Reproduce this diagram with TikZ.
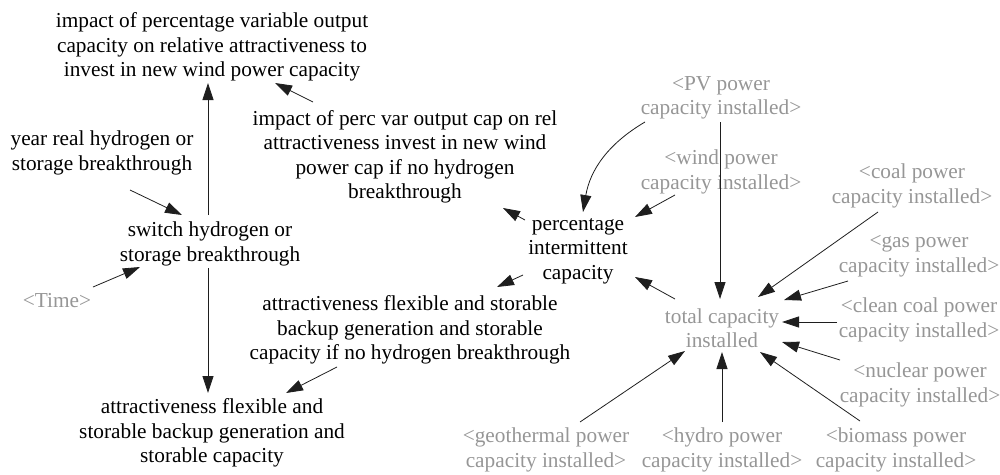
\documentclass[tikz,border=0pt]{standalone}
\usepackage{fontspec}
\setmainfont{Liberation Serif}
\newfontfamily\labelfont{Liberation Serif}
\usetikzlibrary{arrows.meta,calc}
\definecolor{shadowtext}{RGB}{150,150,150}
\definecolor{linkcol}{RGB}{30,30,30}
\begin{document}
\begin{tikzpicture}[x=1pt,y=-1pt,
  var/.style={inner sep=0pt,align=center,text=black,font=\labelfont\fontsize{21.3}{24.5}\selectfont},
  shadow/.style={var,text=shadowtext},
  link/.style={draw=linkcol,line width=0.8pt,-{Triangle[length=17pt,width=11pt]}}]
\useasboundingbox (0,0) rectangle (1000,474);
% model variables
\node[var] (impTop) at (212,47) {impact of percentage variable output\\capacity on relative attractiveness to\\invest in new wind power capacity};
\node[var] (year) at (102,153) {year real hydrogen or\\storage breakthrough};
\node[var] (impNoH) at (405,157) {impact of perc var output cap on rel\\attractiveness invest in new wind\\power cap if no hydrogen\\breakthrough};
\node[var] (switch) at (210,244) {switch hydrogen or\\storage breakthrough};
\node[shadow] (time) at (57,301) {<Time>};
\node[var] (attrNoH) at (410,330) {attractiveness flexible and storable\\backup generation and storable\\capacity if no hydrogen breakthrough};
\node[var] (attr) at (212,433) {attractiveness flexible and\\storable backup generation and\\storable capacity};
\node[var] (perc) at (578,251) {percentage\\intermittent\\capacity};
\node[shadow] (total) at (722,328) {total capacity\\installed};
% shadow inputs
\node[shadow] (pv) at (721,98) {<PV power\\capacity installed>};
\node[shadow] (wind) at (721,172) {<wind power\\capacity installed>};
\node[shadow] (coal) at (912,186) {<coal power\\capacity installed>};
\node[shadow] (gas) at (919,256) {<gas power\\capacity installed>};
\node[shadow] (clean) at (919,320) {<clean coal power\\capacity installed>};
\node[shadow] (nuclear) at (920,385) {<nuclear power\\capacity installed>};
\node[shadow] (geo) at (546,450) {<geothermal power\\capacity installed>};
\node[shadow] (hydro) at (722,450) {<hydro power\\capacity installed>};
\node[shadow] (biomass) at (896,450) {<biomass power\\capacity installed>};
% causal links
\draw[link] ([shift={(-2,-29)}]switch.center) -- ([shift={(-4,36)}]impTop.center);
\draw[link] ([shift={(28,37)}]year.center) -- ([shift={(-28,-29)}]switch.center);
\draw[link] ([shift={(-92,-55)}]impNoH.center) -- ([shift={(63,36)}]impTop.center);
\draw[link] ([shift={(36,-14)}]time.center) -- ([shift={(-70,23)}]switch.center);
\draw[link] ([shift={(-2,24)}]switch.center) -- ([shift={(-4,-40)}]attr.center);
\draw[link] ([shift={(-73,37)}]attrNoH.center) -- ([shift={(74,-40)}]attr.center);
\draw[link] ([shift={(-55,24)}]perc.center) -- ([shift={(87,-43)}]attrNoH.center);
\draw[link] ([shift={(-53,-31)}]perc.center) -- ([shift={(98,51)}]impNoH.center);
\draw[link] ([shift={(-76,24)}]pv.center) to[bend right=25] ([shift={(5,-39)}]perc.center);
\draw[link] ([shift={(-46,23)}]wind.center) -- ([shift={(57,-34)}]perc.center);
\draw[link] ([shift={(-1,24)}]pv.center) -- ([shift={(-2,-29)}]total.center);
\draw[link] ([shift={(-47,-29)}]total.center) -- ([shift={(57,26)}]perc.center);
\draw[link] ([shift={(-34,26)}]coal.center) -- ([shift={(36,-31)}]total.center);
\draw[link] ([shift={(-71,25)}]gas.center) -- ([shift={(62,-28)}]total.center);
\draw[link] ([shift={(-82,2)}]clean.center) -- ([shift={(60,-6)}]total.center);
\draw[link] ([shift={(-80,-25)}]nuclear.center) -- ([shift={(60,14)}]total.center);
\draw[link] ([shift={(-36,-29)}]biomass.center) -- ([shift={(38,24)}]total.center);
\draw[link] ([shift={(0,-28)}]hydro.center) -- ([shift={(0,24)}]total.center);
\draw[link] ([shift={(34,-28)}]geo.center) -- ([shift={(-37,23)}]total.center);
\end{tikzpicture}
\end{document}
